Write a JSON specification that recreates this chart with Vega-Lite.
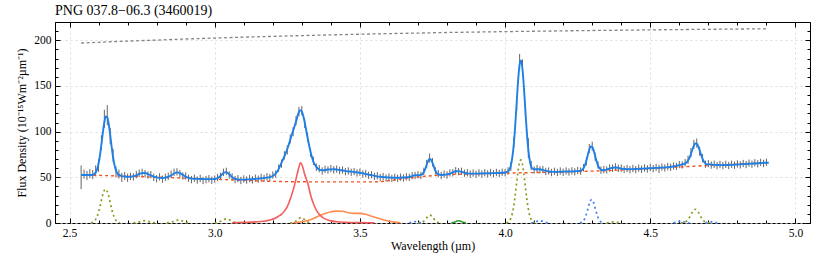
{
"$schema":"https://vega.github.io/schema/vega-lite/v6.json",
"width":755,"height":201,"autosize":"none",
"padding":{"left":55,"top":22,"right":20,"bottom":33},
"background":"#ffffff",
"title":{"text":"PNG 037.8−06.3 (3460019)","anchor":"start","frame":"group","offset":4,"font":"Liberation Serif","fontSize":14,"fontWeight":"normal","color":"#000"},
"config":{"view":{"stroke":"#000","strokeWidth":1},"axis":{"labelFont":"Liberation Serif","titleFont":"Liberation Serif","labelFontSize":11.5,"titleFontSize":12,"labelColor":"#000","titleColor":"#000","tickColor":"#000","domain":false,"titleFontWeight":"normal","grid":false}},
"resolve":{"axis":{"x":"independent","y":"independent"}},
"datasets":{
"spec":[{"w":2.54,"f":50,"e":13},{"w":2.55,"f":53.5,"e":5},{"w":2.56,"f":52,"e":5},{"w":2.57,"f":54,"e":5},{"w":2.58,"f":53,"e":5},{"w":2.59,"f":57,"e":6},{"w":2.60,"f":63,"e":7},{"w":2.61,"f":88,"e":8},{"w":2.62,"f":114,"e":10},{"w":2.63,"f":118,"e":11},{"w":2.64,"f":95,"e":9},{"w":2.65,"f":74,"e":7},{"w":2.66,"f":56,"e":6},{"w":2.67,"f":53.5,"e":5},{"w":2.68,"f":50,"e":5},{"w":2.69,"f":51.5,"e":4.5},{"w":2.70,"f":49.5,"e":4.5},{"w":2.71,"f":51,"e":4},{"w":2.72,"f":50.5,"e":4},{"w":2.73,"f":53,"e":4},{"w":2.74,"f":54.5,"e":4},{"w":2.75,"f":55.5,"e":4},{"w":2.76,"f":54,"e":4},{"w":2.77,"f":52.5,"e":4},{"w":2.78,"f":53,"e":4},{"w":2.79,"f":50,"e":4},{"w":2.80,"f":48.5,"e":4},{"w":2.81,"f":50.5,"e":4},{"w":2.82,"f":48,"e":4},{"w":2.83,"f":50,"e":4},{"w":2.84,"f":51,"e":4},{"w":2.85,"f":53.5,"e":4},{"w":2.86,"f":55.5,"e":4},{"w":2.87,"f":56,"e":4},{"w":2.88,"f":54,"e":4},{"w":2.89,"f":51.5,"e":4},{"w":2.90,"f":51.5,"e":4},{"w":2.91,"f":49,"e":4},{"w":2.92,"f":47.5,"e":4},{"w":2.93,"f":49,"e":4},{"w":2.94,"f":47,"e":4},{"w":2.95,"f":48.8,"e":4},{"w":2.96,"f":46.5,"e":4},{"w":2.97,"f":47.5,"e":4},{"w":2.98,"f":48.5,"e":4},{"w":2.99,"f":46.8,"e":4},{"w":3.00,"f":48,"e":4},{"w":3.01,"f":49.8,"e":4},{"w":3.02,"f":51,"e":4},{"w":3.03,"f":55.5,"e":4},{"w":3.04,"f":56.5,"e":4},{"w":3.05,"f":52.5,"e":4},{"w":3.06,"f":50.5,"e":4},{"w":3.07,"f":47.5,"e":4},{"w":3.08,"f":48.5,"e":4},{"w":3.09,"f":46.5,"e":4},{"w":3.10,"f":48.2,"e":4},{"w":3.11,"f":47,"e":4},{"w":3.12,"f":48.6,"e":4},{"w":3.13,"f":47.2,"e":4},{"w":3.14,"f":49,"e":4},{"w":3.15,"f":48,"e":4},{"w":3.16,"f":49.8,"e":4},{"w":3.17,"f":48.8,"e":4},{"w":3.18,"f":50.6,"e":4},{"w":3.19,"f":49.8,"e":4},{"w":3.20,"f":52.5,"e":4},{"w":3.21,"f":53.5,"e":4},{"w":3.22,"f":60,"e":4},{"w":3.23,"f":65,"e":4.5},{"w":3.24,"f":74,"e":4.5},{"w":3.25,"f":80,"e":5},{"w":3.26,"f":92,"e":5},{"w":3.27,"f":100,"e":5},{"w":3.28,"f":112,"e":5},{"w":3.29,"f":122,"e":5},{"w":3.30,"f":123,"e":5},{"w":3.31,"f":109,"e":5},{"w":3.32,"f":94,"e":5},{"w":3.33,"f":77,"e":4.5},{"w":3.34,"f":68,"e":4.5},{"w":3.35,"f":61,"e":4},{"w":3.36,"f":59.5,"e":4},{"w":3.37,"f":57,"e":4},{"w":3.38,"f":58.8,"e":4},{"w":3.39,"f":58,"e":4},{"w":3.40,"f":59.5,"e":4},{"w":3.41,"f":58.2,"e":4},{"w":3.42,"f":59,"e":4},{"w":3.43,"f":57.5,"e":4},{"w":3.44,"f":58,"e":4},{"w":3.45,"f":56.2,"e":4},{"w":3.46,"f":57,"e":4},{"w":3.47,"f":55.5,"e":4},{"w":3.48,"f":56.3,"e":4},{"w":3.49,"f":54.8,"e":4},{"w":3.50,"f":55.6,"e":4},{"w":3.51,"f":53.6,"e":4},{"w":3.52,"f":54.2,"e":4},{"w":3.53,"f":52.2,"e":4},{"w":3.54,"f":52.8,"e":4},{"w":3.55,"f":51,"e":4},{"w":3.56,"f":51.6,"e":4},{"w":3.57,"f":49.8,"e":4},{"w":3.58,"f":50.8,"e":4},{"w":3.59,"f":49.2,"e":4},{"w":3.60,"f":50.3,"e":4},{"w":3.61,"f":48.8,"e":4},{"w":3.62,"f":50,"e":4},{"w":3.63,"f":49,"e":4},{"w":3.64,"f":50.2,"e":4},{"w":3.65,"f":49.3,"e":4},{"w":3.66,"f":50.6,"e":4},{"w":3.67,"f":50,"e":4},{"w":3.68,"f":51.8,"e":4},{"w":3.69,"f":52,"e":4},{"w":3.70,"f":52.8,"e":4},{"w":3.71,"f":52,"e":4},{"w":3.72,"f":56.5,"e":4},{"w":3.73,"f":64.5,"e":4.5},{"w":3.74,"f":71,"e":5},{"w":3.75,"f":66.5,"e":4.5},{"w":3.76,"f":57,"e":4},{"w":3.77,"f":54,"e":4},{"w":3.78,"f":52,"e":4},{"w":3.79,"f":53.5,"e":4},{"w":3.80,"f":52.6,"e":4},{"w":3.81,"f":54.8,"e":4},{"w":3.82,"f":55,"e":4},{"w":3.83,"f":57.2,"e":4},{"w":3.84,"f":56.2,"e":4},{"w":3.85,"f":56.6,"e":4},{"w":3.86,"f":54.5,"e":4},{"w":3.87,"f":55,"e":4},{"w":3.88,"f":53.4,"e":4},{"w":3.89,"f":54.6,"e":4},{"w":3.90,"f":53.3,"e":4},{"w":3.91,"f":54.8,"e":4},{"w":3.92,"f":53.6,"e":4},{"w":3.93,"f":55,"e":4},{"w":3.94,"f":53.8,"e":4},{"w":3.95,"f":55.2,"e":4},{"w":3.96,"f":54,"e":4},{"w":3.97,"f":55.3,"e":4},{"w":3.98,"f":54.2,"e":4},{"w":3.99,"f":55.6,"e":4},{"w":4.00,"f":55,"e":4},{"w":4.01,"f":57,"e":4},{"w":4.02,"f":62,"e":5},{"w":4.03,"f":88,"e":6},{"w":4.04,"f":130,"e":7},{"w":4.05,"f":176,"e":9},{"w":4.06,"f":170,"e":9},{"w":4.07,"f":124,"e":7},{"w":4.08,"f":82,"e":11},{"w":4.09,"f":63,"e":5},{"w":4.10,"f":58,"e":4},{"w":4.11,"f":59.5,"e":4},{"w":4.12,"f":58.2,"e":4},{"w":4.13,"f":58.6,"e":4},{"w":4.14,"f":56.4,"e":4},{"w":4.15,"f":56.9,"e":4},{"w":4.16,"f":55.3,"e":4},{"w":4.17,"f":56.6,"e":4},{"w":4.18,"f":55.4,"e":4},{"w":4.19,"f":56.8,"e":4},{"w":4.20,"f":55.5,"e":4},{"w":4.21,"f":57,"e":4},{"w":4.22,"f":55.8,"e":4},{"w":4.23,"f":57.1,"e":4},{"w":4.24,"f":56,"e":4},{"w":4.25,"f":57.4,"e":4},{"w":4.26,"f":56.8,"e":4},{"w":4.27,"f":60.5,"e":4},{"w":4.28,"f":67.5,"e":4.5},{"w":4.29,"f":81.5,"e":5},{"w":4.30,"f":84,"e":5},{"w":4.31,"f":72.5,"e":4.5},{"w":4.32,"f":63.5,"e":4},{"w":4.33,"f":57.8,"e":4},{"w":4.34,"f":58.5,"e":4},{"w":4.35,"f":58,"e":4},{"w":4.36,"f":60.2,"e":4},{"w":4.37,"f":60,"e":4},{"w":4.38,"f":61.4,"e":4},{"w":4.39,"f":59.8,"e":4},{"w":4.40,"f":60.1,"e":4},{"w":4.41,"f":58.6,"e":4},{"w":4.42,"f":59.6,"e":4},{"w":4.43,"f":58.4,"e":4},{"w":4.44,"f":59.7,"e":4},{"w":4.45,"f":58.5,"e":4},{"w":4.46,"f":60,"e":4},{"w":4.47,"f":58.8,"e":4},{"w":4.48,"f":60.2,"e":4},{"w":4.49,"f":59.2,"e":4},{"w":4.50,"f":60.6,"e":4},{"w":4.51,"f":59.5,"e":4},{"w":4.52,"f":60.9,"e":4},{"w":4.53,"f":59.2,"e":4.5},{"w":4.54,"f":61.2,"e":4},{"w":4.55,"f":60.2,"e":4},{"w":4.56,"f":61.6,"e":4},{"w":4.57,"f":60.9,"e":4},{"w":4.58,"f":62.4,"e":4},{"w":4.59,"f":62,"e":4},{"w":4.60,"f":63.9,"e":4},{"w":4.61,"f":63.6,"e":4},{"w":4.62,"f":66,"e":4},{"w":4.63,"f":69.2,"e":4.5},{"w":4.64,"f":77,"e":5},{"w":4.65,"f":86,"e":5},{"w":4.66,"f":87.5,"e":5},{"w":4.67,"f":78.5,"e":5},{"w":4.68,"f":71,"e":4.5},{"w":4.69,"f":64.3,"e":4},{"w":4.70,"f":65,"e":4},{"w":4.71,"f":63.4,"e":4},{"w":4.72,"f":64.3,"e":4},{"w":4.73,"f":62.8,"e":4},{"w":4.74,"f":64.1,"e":4},{"w":4.75,"f":62.8,"e":4},{"w":4.76,"f":64.2,"e":4},{"w":4.77,"f":62.9,"e":4},{"w":4.78,"f":64.3,"e":4},{"w":4.79,"f":63.2,"e":4},{"w":4.80,"f":64.7,"e":4},{"w":4.81,"f":63.6,"e":4},{"w":4.82,"f":65.1,"e":4},{"w":4.83,"f":64,"e":4},{"w":4.84,"f":65.5,"e":4},{"w":4.85,"f":64.4,"e":4},{"w":4.86,"f":65.9,"e":4},{"w":4.87,"f":64.8,"e":4},{"w":4.88,"f":66.3,"e":4},{"w":4.89,"f":65.2,"e":4},{"w":4.90,"f":66.5,"e":4}],
"fit":[{"w":2.54,"v":52.5},{"w":2.55,"v":52.5},{"w":2.56,"v":52.5},{"w":2.57,"v":52.5},{"w":2.58,"v":52.7},{"w":2.59,"v":55.3},{"w":2.595,"v":58.9},{"w":2.60,"v":65.1},{"w":2.605,"v":74.4},{"w":2.61,"v":86.4},{"w":2.615,"v":99.4},{"w":2.62,"v":110.5},{"w":2.625,"v":116.6},{"w":2.63,"v":115.9},{"w":2.635,"v":108.5},{"w":2.64,"v":96.7},{"w":2.645,"v":83.7},{"w":2.65,"v":72.1},{"w":2.655,"v":63.3},{"w":2.66,"v":57.6},{"w":2.665,"v":54.3},{"w":2.67,"v":52.7},{"w":2.68,"v":51.3},{"w":2.69,"v":50.9},{"w":2.70,"v":50.6},{"w":2.71,"v":50.5},{"w":2.72,"v":51.2},{"w":2.73,"v":52.2},{"w":2.74,"v":53.7},{"w":2.75,"v":54.6},{"w":2.76,"v":54.8},{"w":2.77,"v":53.6},{"w":2.78,"v":52.1},{"w":2.79,"v":50.8},{"w":2.80,"v":49.9},{"w":2.81,"v":49.4},{"w":2.82,"v":49.3},{"w":2.83,"v":49.6},{"w":2.84,"v":50.4},{"w":2.85,"v":52.1},{"w":2.86,"v":54.2},{"w":2.87,"v":55.4},{"w":2.88,"v":54.7},{"w":2.89,"v":52.7},{"w":2.90,"v":50.7},{"w":2.91,"v":49.3},{"w":2.92,"v":48.6},{"w":2.93,"v":48.4},{"w":2.94,"v":48.3},{"w":2.95,"v":48.2},{"w":2.96,"v":48.1},{"w":2.97,"v":48.0},{"w":2.98,"v":48.0},{"w":2.99,"v":48.0},{"w":3.00,"v":48.2},{"w":3.01,"v":49.0},{"w":3.02,"v":51.4},{"w":3.03,"v":54.7},{"w":3.04,"v":55.7},{"w":3.05,"v":53.3},{"w":3.06,"v":50.0},{"w":3.07,"v":48.2},{"w":3.08,"v":47.6},{"w":3.09,"v":47.5},{"w":3.10,"v":47.5},{"w":3.11,"v":47.6},{"w":3.12,"v":47.8},{"w":3.13,"v":48.0},{"w":3.14,"v":48.3},{"w":3.15,"v":48.6},{"w":3.16,"v":48.9},{"w":3.17,"v":49.3},{"w":3.18,"v":49.7},{"w":3.19,"v":50.3},{"w":3.20,"v":51.5},{"w":3.21,"v":54},{"w":3.22,"v":59},{"w":3.23,"v":66},{"w":3.24,"v":73},{"w":3.25,"v":81},{"w":3.26,"v":91},{"w":3.27,"v":101},{"w":3.28,"v":111},{"w":3.285,"v":117},{"w":3.29,"v":121.5},{"w":3.295,"v":123.5},{"w":3.30,"v":122},{"w":3.305,"v":117},{"w":3.31,"v":110},{"w":3.32,"v":93},{"w":3.33,"v":78},{"w":3.34,"v":67},{"w":3.35,"v":61.5},{"w":3.36,"v":58.5},{"w":3.37,"v":57.8},{"w":3.38,"v":58},{"w":3.39,"v":58.5},{"w":3.40,"v":58.7},{"w":3.41,"v":58.8},{"w":3.42,"v":58.5},{"w":3.43,"v":58},{"w":3.44,"v":57.5},{"w":3.45,"v":57},{"w":3.46,"v":56.5},{"w":3.47,"v":56.2},{"w":3.48,"v":55.8},{"w":3.49,"v":55.4},{"w":3.50,"v":55},{"w":3.51,"v":54.4},{"w":3.52,"v":53.8},{"w":3.53,"v":53},{"w":3.54,"v":52.3},{"w":3.55,"v":51.6},{"w":3.56,"v":51},{"w":3.57,"v":50.6},{"w":3.58,"v":50.3},{"w":3.59,"v":50},{"w":3.60,"v":49.8},{"w":3.61,"v":49.6},{"w":3.62,"v":49.5},{"w":3.63,"v":49.5},{"w":3.64,"v":49.6},{"w":3.65,"v":49.8},{"w":3.66,"v":50},{"w":3.67,"v":50.4},{"w":3.68,"v":51.3},{"w":3.69,"v":52.3},{"w":3.70,"v":52.2},{"w":3.71,"v":52.6},{"w":3.72,"v":55.6},{"w":3.725,"v":59.2},{"w":3.73,"v":63.8},{"w":3.735,"v":68},{"w":3.74,"v":70.2},{"w":3.745,"v":69.2},{"w":3.75,"v":65.9},{"w":3.755,"v":61.4},{"w":3.76,"v":57.4},{"w":3.77,"v":53.2},{"w":3.78,"v":52.6},{"w":3.79,"v":52.8},{"w":3.80,"v":53.2},{"w":3.81,"v":54},{"w":3.82,"v":55.5},{"w":3.83,"v":56.6},{"w":3.84,"v":56.8},{"w":3.85,"v":56},{"w":3.86,"v":55},{"w":3.87,"v":54.3},{"w":3.88,"v":54},{"w":3.89,"v":54},{"w":3.90,"v":54},{"w":3.91,"v":54.1},{"w":3.92,"v":54.2},{"w":3.93,"v":54.3},{"w":3.94,"v":54.4},{"w":3.95,"v":54.5},{"w":3.96,"v":54.6},{"w":3.97,"v":54.7},{"w":3.98,"v":54.8},{"w":3.99,"v":55},{"w":4.00,"v":55.3},{"w":4.005,"v":55.7},{"w":4.01,"v":56.5},{"w":4.015,"v":58.6},{"w":4.02,"v":63.1},{"w":4.025,"v":72},{"w":4.03,"v":86.5},{"w":4.035,"v":107.2},{"w":4.04,"v":132.2},{"w":4.045,"v":156.5},{"w":4.05,"v":173.5},{"w":4.055,"v":178},{"w":4.06,"v":168},{"w":4.065,"v":147.4},{"w":4.07,"v":122.2},{"w":4.075,"v":98.6},{"w":4.08,"v":80.3},{"w":4.085,"v":68.3},{"w":4.09,"v":61.5},{"w":4.095,"v":59.5},{"w":4.10,"v":58.8},{"w":4.11,"v":58.8},{"w":4.12,"v":58.8},{"w":4.13,"v":58},{"w":4.14,"v":57},{"w":4.15,"v":56.3},{"w":4.16,"v":56},{"w":4.17,"v":56},{"w":4.18,"v":56},{"w":4.19,"v":56.1},{"w":4.20,"v":56.2},{"w":4.21,"v":56.3},{"w":4.22,"v":56.4},{"w":4.23,"v":56.5},{"w":4.24,"v":56.6},{"w":4.25,"v":56.8},{"w":4.255,"v":56.9},{"w":4.26,"v":57.3},{"w":4.265,"v":58.1},{"w":4.27,"v":59.9},{"w":4.275,"v":63.3},{"w":4.28,"v":68.4},{"w":4.285,"v":74.6},{"w":4.29,"v":80.4},{"w":4.295,"v":83.7},{"w":4.30,"v":83.3},{"w":4.305,"v":79.4},{"w":4.31,"v":73.5},{"w":4.315,"v":67.5},{"w":4.32,"v":62.8},{"w":4.325,"v":59.9},{"w":4.33,"v":58.4},{"w":4.335,"v":57.8},{"w":4.34,"v":57.9},{"w":4.35,"v":58.5},{"w":4.36,"v":59.6},{"w":4.37,"v":60.5},{"w":4.38,"v":60.8},{"w":4.39,"v":60.3},{"w":4.40,"v":59.5},{"w":4.41,"v":59.2},{"w":4.42,"v":59},{"w":4.43,"v":59},{"w":4.44,"v":59},{"w":4.45,"v":59.1},{"w":4.46,"v":59.3},{"w":4.47,"v":59.4},{"w":4.48,"v":59.6},{"w":4.49,"v":59.8},{"w":4.50,"v":60},{"w":4.51,"v":60.1},{"w":4.52,"v":60.3},{"w":4.53,"v":60.4},{"w":4.54,"v":60.6},{"w":4.55,"v":60.8},{"w":4.56,"v":61},{"w":4.57,"v":61.4},{"w":4.58,"v":61.8},{"w":4.59,"v":62.5},{"w":4.60,"v":63.3},{"w":4.61,"v":64.2},{"w":4.615,"v":64.5},{"w":4.62,"v":65.2},{"w":4.625,"v":66.4},{"w":4.63,"v":68.5},{"w":4.635,"v":71.3},{"w":4.64,"v":75.6},{"w":4.645,"v":80.4},{"w":4.65,"v":84.6},{"w":4.655,"v":87},{"w":4.66,"v":86.8},{"w":4.665,"v":84},{"w":4.67,"v":79.5},{"w":4.675,"v":74.6},{"w":4.68,"v":70.2},{"w":4.685,"v":67},{"w":4.69,"v":65},{"w":4.695,"v":64},{"w":4.70,"v":64.3},{"w":4.71,"v":64},{"w":4.72,"v":63.6},{"w":4.73,"v":63.5},{"w":4.74,"v":63.4},{"w":4.75,"v":63.4},{"w":4.76,"v":63.5},{"w":4.77,"v":63.5},{"w":4.78,"v":63.6},{"w":4.79,"v":63.8},{"w":4.80,"v":64},{"w":4.81,"v":64.2},{"w":4.82,"v":64.4},{"w":4.83,"v":64.6},{"w":4.84,"v":64.8},{"w":4.85,"v":65},{"w":4.86,"v":65.2},{"w":4.87,"v":65.4},{"w":4.88,"v":65.6},{"w":4.89,"v":65.8},{"w":4.90,"v":66},{"w":4.908,"v":66}],
"cont":[{"w":2.54,"v":52.6},{"w":2.6,"v":52.1},{"w":2.7,"v":51.2},{"w":2.8,"v":50.2},{"w":2.9,"v":49.1},{"w":3.0,"v":47.9},{"w":3.1,"v":46.7},{"w":3.2,"v":45.6},{"w":3.3,"v":45.1},{"w":3.4,"v":45.0},{"w":3.5,"v":45.0},{"w":3.56,"v":45.1},{"w":3.6,"v":46.3},{"w":3.65,"v":48.5},{"w":3.7,"v":50.3},{"w":3.75,"v":51.8},{"w":3.8,"v":52.9},{"w":3.9,"v":53.9},{"w":4.0,"v":54.6},{"w":4.1,"v":55.2},{"w":4.2,"v":55.9},{"w":4.3,"v":56.8},{"w":4.4,"v":58.0},{"w":4.5,"v":59.6},{"w":4.6,"v":61.3},{"w":4.7,"v":63.0},{"w":4.8,"v":64.5},{"w":4.908,"v":65.9}],
"top":[{"w":2.54,"v":197.0},{"w":2.6,"v":197.8},{"w":2.7,"v":199.1},{"w":2.8,"v":200.2},{"w":2.9,"v":201.4},{"w":3.0,"v":202.4},{"w":3.1,"v":203.4},{"w":3.2,"v":204.3},{"w":3.3,"v":205.1},{"w":3.4,"v":205.9},{"w":3.5,"v":206.6},{"w":3.6,"v":207.3},{"w":3.7,"v":207.9},{"w":3.8,"v":208.5},{"w":3.9,"v":209.0},{"w":4.0,"v":209.5},{"w":4.1,"v":209.9},{"w":4.2,"v":210.3},{"w":4.3,"v":210.7},{"w":4.4,"v":211.0},{"w":4.5,"v":211.4},{"w":4.6,"v":211.7},{"w":4.7,"v":212.0},{"w":4.8,"v":212.3},{"w":4.906,"v":212.6}],
"hl":[{"id":"o1","w":2.574,"v":0.3},{"id":"o1","w":2.579,"v":0.7},{"id":"o1","w":2.584,"v":1.6},{"id":"o1","w":2.589,"v":3.4},{"id":"o1","w":2.594,"v":6.4},{"id":"o1","w":2.599,"v":10.9},{"id":"o1","w":2.604,"v":16.9},{"id":"o1","w":2.609,"v":23.8},{"id":"o1","w":2.614,"v":30.5},{"id":"o1","w":2.619,"v":35.2},{"id":"o1","w":2.624,"v":37},{"id":"o1","w":2.629,"v":35.2},{"id":"o1","w":2.634,"v":30.5},{"id":"o1","w":2.639,"v":23.8},{"id":"o1","w":2.644,"v":16.9},{"id":"o1","w":2.649,"v":10.9},{"id":"o1","w":2.654,"v":6.4},{"id":"o1","w":2.659,"v":3.4},{"id":"o1","w":2.664,"v":1.6},{"id":"o1","w":2.669,"v":0.7},{"id":"o1","w":2.674,"v":0.3},
{"id":"o2","w":2.72,"v":0.1},{"id":"o2","w":2.73,"v":0.5},{"id":"o2","w":2.74,"v":1.2},{"id":"o2","w":2.75,"v":2.1},{"id":"o2","w":2.758,"v":2.5},{"id":"o2","w":2.77,"v":1.8},{"id":"o2","w":2.78,"v":0.9},{"id":"o2","w":2.79,"v":0.3},{"id":"o2","w":2.80,"v":0.05},
{"id":"o3","w":2.835,"v":0.1},{"id":"o3","w":2.845,"v":0.5},{"id":"o3","w":2.855,"v":1.4},{"id":"o3","w":2.865,"v":2.6},{"id":"o3","w":2.875,"v":3.3},{"id":"o3","w":2.885,"v":2.6},{"id":"o3","w":2.895,"v":1.4},{"id":"o3","w":2.905,"v":0.5},{"id":"o3","w":2.915,"v":0.1},
{"id":"o4","w":3.00,"v":0.1},{"id":"o4","w":3.01,"v":0.6},{"id":"o4","w":3.02,"v":1.8},{"id":"o4","w":3.03,"v":3.6},{"id":"o4","w":3.04,"v":4.5},{"id":"o4","w":3.05,"v":3.6},{"id":"o4","w":3.06,"v":1.8},{"id":"o4","w":3.07,"v":0.6},{"id":"o4","w":3.08,"v":0.1},
{"id":"o5","w":3.26,"v":0.1},{"id":"o5","w":3.27,"v":0.5},{"id":"o5","w":3.28,"v":2.2},{"id":"o5","w":3.29,"v":5},{"id":"o5","w":3.297,"v":6},{"id":"o5","w":3.305,"v":4.8},{"id":"o5","w":3.315,"v":2.1},{"id":"o5","w":3.325,"v":0.6},{"id":"o5","w":3.335,"v":0.1},
{"id":"o6","w":3.70,"v":0.05},{"id":"o6","w":3.71,"v":0.3},{"id":"o6","w":3.72,"v":1.9},{"id":"o6","w":3.73,"v":5.7},{"id":"o6","w":3.741,"v":8.7},{"id":"o6","w":3.75,"v":6.6},{"id":"o6","w":3.76,"v":2.5},{"id":"o6","w":3.77,"v":0.5},{"id":"o6","w":3.78,"v":0.05},
{"id":"o7","w":4.004,"v":0.27},{"id":"o7","w":4.009,"v":0.76},{"id":"o7","w":4.014,"v":2},{"id":"o7","w":4.019,"v":4.6},{"id":"o7","w":4.024,"v":9.3},{"id":"o7","w":4.029,"v":17.2},{"id":"o7","w":4.034,"v":28.4},{"id":"o7","w":4.039,"v":41.9},{"id":"o7","w":4.044,"v":55.3},{"id":"o7","w":4.049,"v":65.3},{"id":"o7","w":4.054,"v":69},{"id":"o7","w":4.059,"v":65.3},{"id":"o7","w":4.064,"v":55.3},{"id":"o7","w":4.069,"v":41.9},{"id":"o7","w":4.074,"v":28.4},{"id":"o7","w":4.079,"v":17.2},{"id":"o7","w":4.084,"v":9.3},{"id":"o7","w":4.089,"v":4.6},{"id":"o7","w":4.094,"v":2},{"id":"o7","w":4.099,"v":0.76},{"id":"o7","w":4.104,"v":0.27},
{"id":"o8","w":4.35,"v":0.2},{"id":"o8","w":4.36,"v":0.7},{"id":"o8","w":4.373,"v":1.2},{"id":"o8","w":4.385,"v":0.7},{"id":"o8","w":4.395,"v":0.2},
{"id":"o9","w":4.605,"v":0.06},{"id":"o9","w":4.615,"v":0.43},{"id":"o9","w":4.625,"v":2.0},{"id":"o9","w":4.635,"v":6.2},{"id":"o9","w":4.645,"v":12.0},{"id":"o9","w":4.655,"v":15},{"id":"o9","w":4.665,"v":12.0},{"id":"o9","w":4.675,"v":6.2},{"id":"o9","w":4.685,"v":2.0},{"id":"o9","w":4.695,"v":0.43},{"id":"o9","w":4.705,"v":0.06}],
"bl":[{"id":"b1","w":3.67,"v":0.2},{"id":"b1","w":3.68,"v":0.9},{"id":"b1","w":3.69,"v":1.5},{"id":"b1","w":3.70,"v":0.9},{"id":"b1","w":3.71,"v":0.2},
{"id":"b2","w":4.09,"v":0.2},{"id":"b2","w":4.10,"v":0.8},{"id":"b2","w":4.11,"v":1.9},{"id":"b2","w":4.12,"v":2.5},{"id":"b2","w":4.13,"v":1.9},{"id":"b2","w":4.14,"v":0.8},{"id":"b2","w":4.15,"v":0.2},
{"id":"b3","w":4.258,"v":0.2},{"id":"b3","w":4.263,"v":0.7},{"id":"b3","w":4.268,"v":1.8},{"id":"b3","w":4.273,"v":4.0},{"id":"b3","w":4.278,"v":7.8},{"id":"b3","w":4.283,"v":13.1},{"id":"b3","w":4.288,"v":19.0},{"id":"b3","w":4.293,"v":23.7},{"id":"b3","w":4.298,"v":25.5},{"id":"b3","w":4.303,"v":23.7},{"id":"b3","w":4.308,"v":19.0},{"id":"b3","w":4.313,"v":13.1},{"id":"b3","w":4.318,"v":7.8},{"id":"b3","w":4.323,"v":4.0},{"id":"b3","w":4.328,"v":1.8},{"id":"b3","w":4.333,"v":0.7},{"id":"b3","w":4.338,"v":0.2},
{"id":"b4","w":4.58,"v":0.2},{"id":"b4","w":4.59,"v":0.9},{"id":"b4","w":4.60,"v":1.8},{"id":"b4","w":4.605,"v":2},{"id":"b4","w":4.615,"v":1.4},{"id":"b4","w":4.625,"v":0.5},{"id":"b4","w":4.635,"v":0.1},
{"id":"b5","w":4.69,"v":0.2},{"id":"b5","w":4.70,"v":0.9},{"id":"b5","w":4.71,"v":1.3},{"id":"b5","w":4.72,"v":0.9},{"id":"b5","w":4.73,"v":0.2}],
"gr":[{"w":3.815,"v":0.1},{"w":3.825,"v":0.8},{"w":3.835,"v":2.2},{"w":3.84,"v":2.5},{"w":3.845,"v":2.2},{"w":3.855,"v":0.8},{"w":3.865,"v":0.1}],
"pah":[{"w":3.06,"v":0.3},{"w":3.10,"v":0.7},{"w":3.14,"v":1.2},{"w":3.17,"v":2},{"w":3.19,"v":3.3},{"w":3.21,"v":5.5},{"w":3.22,"v":7.5},{"w":3.23,"v":9.5},{"w":3.24,"v":13},{"w":3.25,"v":18},{"w":3.26,"v":26},{"w":3.27,"v":36},{"w":3.28,"v":48},{"w":3.285,"v":55},{"w":3.29,"v":61},{"w":3.295,"v":66},{"w":3.30,"v":64},{"w":3.305,"v":59},{"w":3.31,"v":53},{"w":3.32,"v":44},{"w":3.33,"v":31},{"w":3.34,"v":21},{"w":3.35,"v":14},{"w":3.36,"v":9.5},{"w":3.37,"v":6.5},{"w":3.38,"v":4.5},{"w":3.39,"v":3.2},{"w":3.40,"v":2.3},{"w":3.42,"v":1.4},{"w":3.45,"v":0.8},{"w":3.50,"v":0.4},{"w":3.55,"v":0.1}],
"plat":[{"w":3.27,"v":0.3},{"w":3.30,"v":1.3},{"w":3.32,"v":2.7},{"w":3.34,"v":5},{"w":3.36,"v":8},{"w":3.38,"v":10.5},{"w":3.40,"v":12.3},{"w":3.42,"v":13},{"w":3.44,"v":12.8},{"w":3.46,"v":11.3},{"w":3.48,"v":10.5},{"w":3.50,"v":10.5},{"w":3.52,"v":9.5},{"w":3.54,"v":7.5},{"w":3.56,"v":5.5},{"w":3.58,"v":3.5},{"w":3.60,"v":2},{"w":3.62,"v":1},{"w":3.64,"v":0.3}]
},
"layer":[
{"data":{"name":"spec"},"mark":{"type":"errorbar","color":"#4a4a4a","thickness":1,"opacity":0.85},
 "encoding":{"x":{"field":"w","type":"quantitative","scale":{"domain":[2.45,5.05],"nice":false,"zero":false},"axis":null},
  "y":{"field":"f","type":"quantitative","scale":{"domain":[0,220],"nice":false},"axis":null},
  "yError":{"field":"e"}}},
{"data":{"name":"hl"},"mark":{"type":"line","color":"#8a9a1e","strokeWidth":1.7,"strokeDash":[2,3],"interpolate":"monotone"},
 "encoding":{"x":{"field":"w","type":"quantitative","scale":{"domain":[2.45,5.05],"nice":false,"zero":false},"axis":{"orient":"top","values":[2.5,2.6,2.7,2.8,2.9,3.0,3.1,3.2,3.3,3.4,3.5,3.6,3.7,3.8,3.9,4.0,4.1,4.2,4.3,4.4,4.5,4.6,4.7,4.8,4.9,5.0],"labels":false,"tickSize":-3,"title":null,"grid":false}},
  "y":{"field":"v","type":"quantitative","scale":{"domain":[0,220],"nice":false},"axis":{"orient":"right","values":[0,10,20,30,40,50,60,70,80,90,100,110,120,130,140,150,160,170,180,190,200,210,220],"labels":false,"tickSize":-3,"title":null,"grid":false}},
  "detail":{"field":"id"}}},
{"data":{"name":"bl"},"mark":{"type":"line","color":"#3f7ff2","strokeWidth":1.7,"strokeDash":[2,3],"interpolate":"monotone"},
 "encoding":{"x":{"field":"w","type":"quantitative","axis":null},"y":{"field":"v","type":"quantitative","axis":null},"detail":{"field":"id"}}},
{"data":{"name":"gr"},"mark":{"type":"line","color":"#2ca02c","strokeWidth":1.6,"interpolate":"monotone"},
 "encoding":{"x":{"field":"w","type":"quantitative","axis":null},"y":{"field":"v","type":"quantitative","axis":null}}},
{"data":{"name":"plat"},"mark":{"type":"line","color":"#ff8c50","strokeWidth":1.6,"interpolate":"monotone"},
 "encoding":{"x":{"field":"w","type":"quantitative","axis":null},"y":{"field":"v","type":"quantitative","axis":null}}},
{"data":{"name":"pah"},"mark":{"type":"line","color":"#f55c5c","strokeWidth":1.6,"interpolate":"monotone"},
 "encoding":{"x":{"field":"w","type":"quantitative","axis":null},"y":{"field":"v","type":"quantitative","axis":null}}},
{"data":{"name":"cont"},"mark":{"type":"line","color":"#f4511e","strokeWidth":1.4,"strokeDash":[3,3],"interpolate":"monotone"},
 "encoding":{"x":{"field":"w","type":"quantitative","axis":{"orient":"top","values":[2.5,3.0,3.5,4.0,4.5,5.0],"labels":false,"tickSize":-5,"title":null,"grid":false}},
  "y":{"field":"v","type":"quantitative","axis":{"orient":"right","values":[0,50,100,150,200],"labels":false,"tickSize":-5,"title":null,"grid":false}}}},
{"data":{"name":"fit"},"mark":{"type":"line","color":"#1e80e6","strokeWidth":1.9,"interpolate":"monotone"},
 "encoding":{"x":{"field":"w","type":"quantitative","axis":{"orient":"bottom","values":[2.5,2.6,2.7,2.8,2.9,3.0,3.1,3.2,3.3,3.4,3.5,3.6,3.7,3.8,3.9,4.0,4.1,4.2,4.3,4.4,4.5,4.6,4.7,4.8,4.9,5.0],"labels":false,"tickSize":-3,"title":null,"grid":false}},
  "y":{"field":"v","type":"quantitative","axis":{"orient":"left","values":[0,10,20,30,40,50,60,70,80,90,100,110,120,130,140,150,160,170,180,190,200,210,220],"labels":false,"tickSize":-3,"title":null,"grid":false}}}},
{"data":{"name":"top"},"mark":{"type":"line","color":"#858585","strokeWidth":1.3,"strokeDash":[3,2.5]},
 "encoding":{"x":{"field":"w","type":"quantitative","axis":{"orient":"bottom","values":[2.5,3.0,3.5,4.0,4.5,5.0],"format":".1f","tickSize":-5,"labelPadding":9,"title":"Wavelength (µm)","titlePadding":2,"grid":true,"gridColor":"#d4d4d4","gridDash":[2,3],"gridWidth":0.8}},
  "y":{"field":"v","type":"quantitative","axis":{"orient":"left","values":[0,50,100,150,200],"format":"d","tickSize":-5,"labelPadding":9,"title":"Flux Density (10⁻¹⁵Wm⁻²µm⁻¹)","titlePadding":5,"grid":true,"gridColor":"#d4d4d4","gridDash":[2,3],"gridWidth":0.8}}}}
]
}
